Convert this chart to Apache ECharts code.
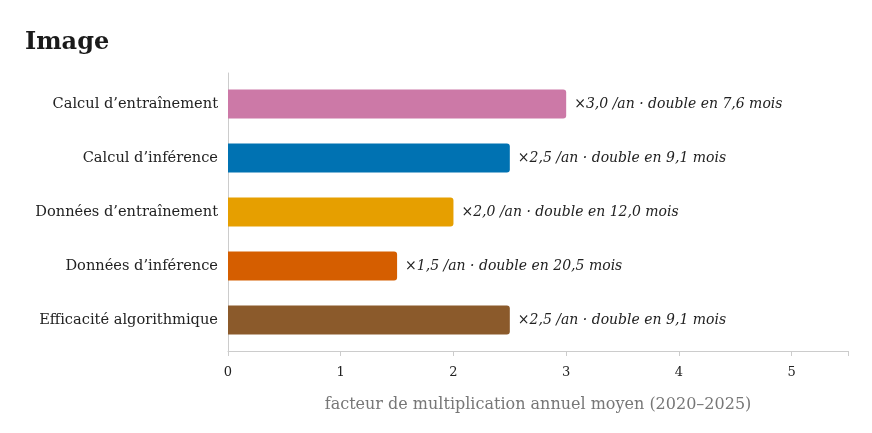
<!DOCTYPE html>
<html>
<head>
<meta charset="utf-8">
<script src="https://cdn.jsdelivr.net/npm/echarts@6/dist/echarts.min.js"></script>
<style>
  html, body { margin: 0; padding: 0; background: #fff; }
  #chart { width: 872px; height: 433px; }
</style>
</head>
<body>
<div id="chart"></div>
<script>
const categories = [
  'Calcul d\u2019entraînement',
  'Calcul d\u2019inférence',
  'Données d\u2019entraînement',
  'Données d\u2019inférence',
  'Efficacité algorithmique'
];
const factors = [3.0, 2.5, 2.0, 1.5, 2.5];
const doublingMonths = [7.6, 9.1, 12.0, 20.5, 9.1];
const barColors = ['#CC79A7', '#0072B2', '#E69F00', '#D55E00', '#8B5A2B'];

const serif = 'Georgia, "DejaVu Serif", serif';

document.addEventListener('DOMContentLoaded', () => {
  const chart = echarts.init(document.getElementById('chart'), null, { renderer: 'canvas' });

  const fr = v => v.toFixed(1).replace('.', ',');

  chart.setOption({
    backgroundColor: '#fff',
    animation: false,
    title: {
      text: 'Image',
      left: 20,
      top: 26,
      textStyle: { fontFamily: serif, fontSize: 24, fontWeight: 'bold', color: '#1a1a1a' }
    },
    // grid 0 holds the bars (inner band padding), grid 1 draws the frame axes
    grid: [
      { left: 228, right: 24, top: 77, bottom: 86 },
      { left: 228, right: 24, top: 73, bottom: 82 }
    ],
    xAxis: [
      {
        gridIndex: 0, type: 'value', min: 0, max: 5.5,
        axisLine: { show: false }, axisTick: { show: false },
        axisLabel: { show: false }, splitLine: { show: false }
      },
      {
        gridIndex: 1, type: 'value', min: 0, max: 5.5, interval: 1,
        name: 'facteur de multiplication annuel moyen (2020–2025)',
        nameLocation: 'middle',
        nameGap: 46,
        nameTextStyle: { fontFamily: serif, fontSize: 16, color: '#777' },
        axisLine: { show: true, lineStyle: { color: '#ccc' } },
        axisTick: { show: true, length: 5, lineStyle: { color: '#ccc' } },
        splitLine: { show: false },
        axisLabel: {
          fontFamily: serif, fontSize: 13, color: '#222', margin: 15,
          formatter: v => (v % 1 === 0 ? String(v) : '')
        }
      }
    ],
    yAxis: [
      {
        gridIndex: 0, type: 'category', data: categories, inverse: true,
        axisLine: { show: false }, axisTick: { show: false },
        axisLabel: { fontFamily: serif, fontSize: 14.6, color: '#222', margin: 10 }
      },
      {
        gridIndex: 1, type: 'value', min: 0, max: 1,
        axisLine: { show: true, lineStyle: { color: '#ccc' } },
        axisTick: { show: false }, axisLabel: { show: false }, splitLine: { show: false }
      }
    ],
    series: [{
      type: 'bar',
      xAxisIndex: 0,
      yAxisIndex: 0,
      barWidth: '54%',
      data: factors.map((v, i) => ({
        value: v,
        itemStyle: { color: barColors[i], borderRadius: [0, 3, 3, 0] }
      })),
      label: {
        show: true,
        position: 'right',
        distance: 8,
        fontFamily: serif,
        fontStyle: 'italic',
        fontSize: 14,
        color: '#222',
        formatter: p => '×' + fr(factors[p.dataIndex]) + ' /an · double en ' + fr(doublingMonths[p.dataIndex]) + ' mois'
      }
    }]
  });

  window.addEventListener('resize', () => chart.resize());
});
</script>
</body>
</html>
